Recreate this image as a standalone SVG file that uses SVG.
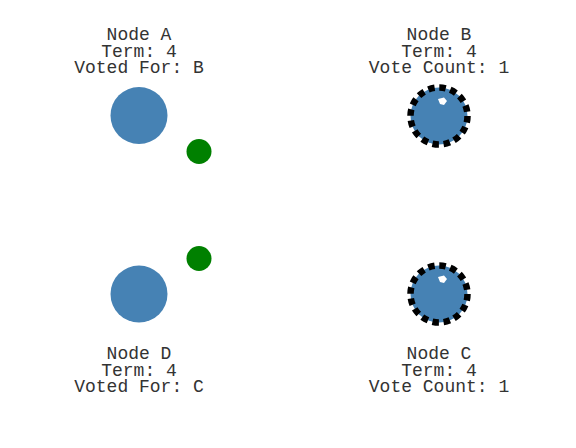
<svg xmlns="http://www.w3.org/2000/svg" width="576" height="448" viewBox="0 0 576 448">
<style>
text{font-family:"Liberation Mono","Courier New",monospace;font-size:18px;fill:#333;text-anchor:middle}
.node{fill:#4682b4}
.cand{stroke:#000;stroke-width:6.5;stroke-dasharray:6.5 4.7}
.msg{fill:#008000}
.tick{fill:#fff}
</style>
<defs>
<path id="tick" class="tick" d="M-1,-17 L5,-18.5 L8,-15 L5,-11 L1,-12 Z"/>
</defs>
<rect width="576" height="448" fill="#fff"/>
<g id="connectors">
<circle class="msg" cx="199" cy="151.5" r="12.5"/>
<circle class="msg" cx="199" cy="258.5" r="12.5"/>
</g>
<g id="nodeA">
<text x="139" y="40">Node A</text>
<text x="139" y="57">Term: 4</text>
<text x="139" y="73">Voted For: B</text>
<circle class="node" cx="139" cy="115.5" r="28.5"/>
</g>
<g id="nodeB">
<text x="439" y="40">Node B</text>
<text x="439" y="57">Term: 4</text>
<text x="439" y="73">Vote Count: 1</text>
<circle class="node cand" cx="439" cy="116" r="28.5"/>
<use href="#tick" x="439" y="116"/>
</g>
<g id="nodeD">
<text x="139" y="359">Node D</text>
<text x="139" y="375.5">Term: 4</text>
<text x="139" y="392">Voted For: C</text>
<circle class="node" cx="139" cy="294" r="28.5"/>
</g>
<g id="nodeC">
<text x="439" y="359">Node C</text>
<text x="439" y="375.5">Term: 4</text>
<text x="439" y="392">Vote Count: 1</text>
<circle class="node cand" cx="439" cy="294" r="28.5"/>
<use href="#tick" x="439" y="294"/>
</g>
</svg>
